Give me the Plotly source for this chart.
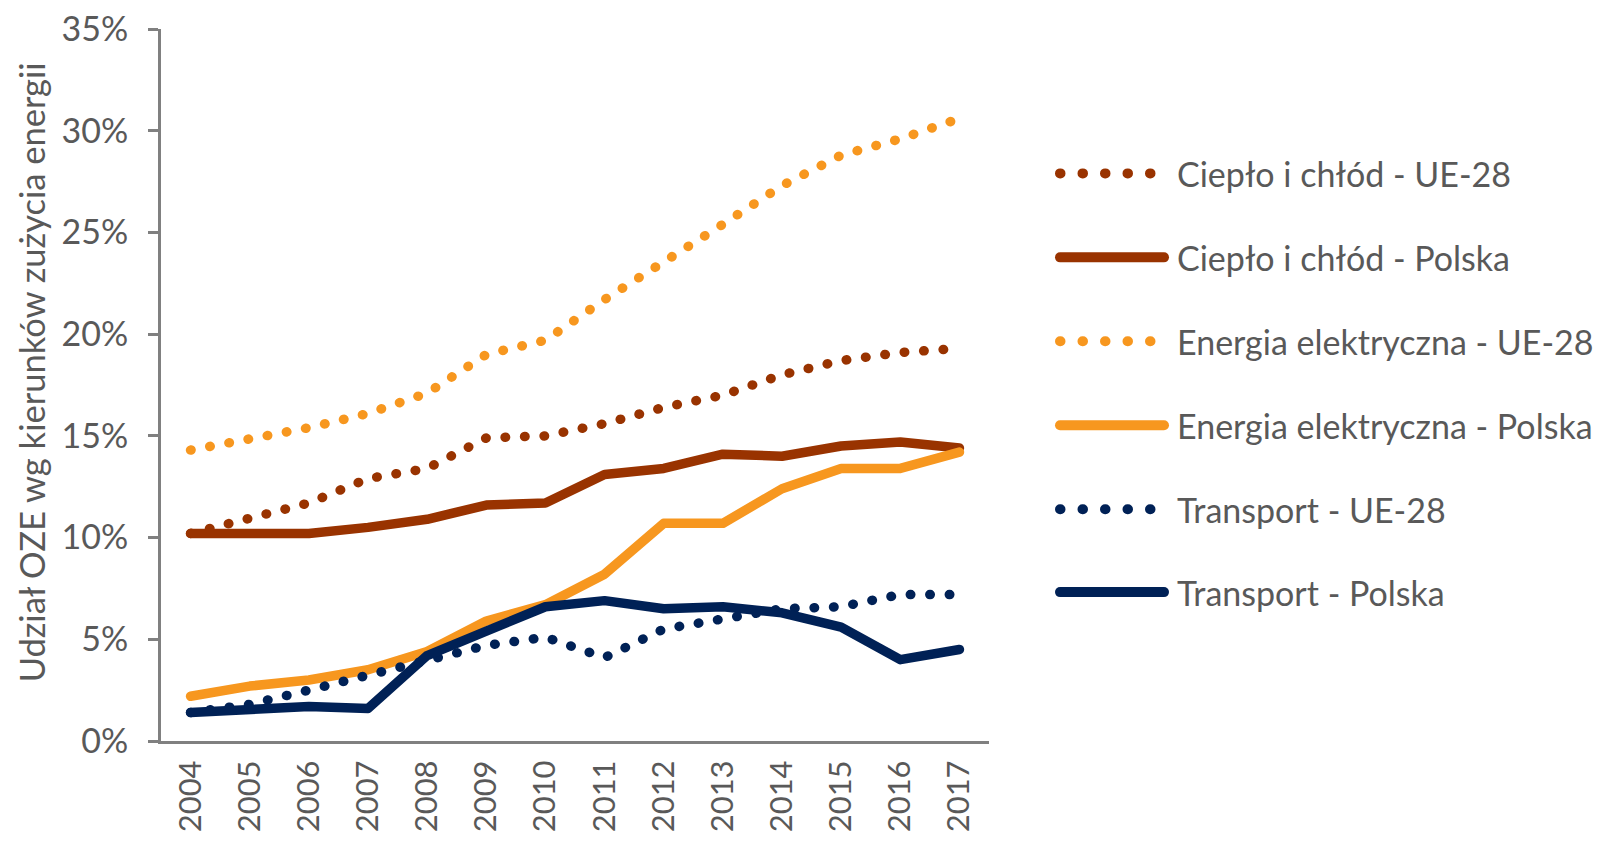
import plotly.graph_objects as go

years = ["2004", "2005", "2006", "2007", "2008", "2009", "2010",
         "2011", "2012", "2013", "2014", "2015", "2016", "2017"]

cieplo_ue = [10.2, 11.0, 11.7, 12.9, 13.4, 14.9, 15.0, 15.6, 16.4, 17.0, 18.0, 18.7, 19.1, 19.3]
cieplo_pl = [10.2, 10.2, 10.2, 10.5, 10.9, 11.6, 11.7, 13.1, 13.4, 14.1, 14.0, 14.5, 14.7, 14.4]
energia_ue = [14.3, 14.8, 15.4, 16.1, 17.1, 19.0, 19.7, 21.7, 23.5, 25.4, 27.3, 28.8, 29.6, 30.6]
energia_pl = [2.2, 2.7, 3.0, 3.5, 4.4, 5.9, 6.7, 8.2, 10.7, 10.7, 12.4, 13.4, 13.4, 14.2]
transport_ue = [1.4, 1.8, 2.5, 3.2, 4.0, 4.7, 5.1, 4.1, 5.5, 6.0, 6.5, 6.6, 7.2, 7.2]
transport_pl = [1.4, 1.6, 1.7, 1.6, 4.2, 5.4, 6.6, 6.9, 6.5, 6.6, 6.3, 5.6, 4.0, 4.5]

names = ["Ciepło i chłód - UE-28", "Ciepło i chłód - Polska",
         "Energia elektryczna - UE-28", "Energia elektryczna - Polska",
         "Transport - UE-28", "Transport - Polska"]
series = [cieplo_ue, cieplo_pl, energia_ue, energia_pl, transport_ue, transport_pl]
y_title = "Udział OZE wg kierunków zużycia energii"

BROWN = "#993300"
ORANGE = "#F7971F"
NAVY = "#002156"
colors = [BROWN, BROWN, ORANGE, ORANGE, NAVY, NAVY]
dotted = [True, False, True, False, True, False]

FONT = "Lato, 'Open Sans', sans-serif"
GRAY_TXT = "#595959"
AXIS = "#808080"

fig = go.Figure()
for name, vals, col, dt in zip(names, series, colors, dotted):
    fig.add_trace(go.Scatter(
        x=years, y=vals, name=name, mode="lines",
        line=dict(color=col, width=9.5, dash="0.5px,19px" if dt else "solid"),
        showlegend=False, hoverinfo="skip",
    ))

# manual legend (paper coordinates relative to plot area)
left, right, top, bottom = 161, 989, 28.5, 741
pw, ph = right - left, bottom - top
def px_x(p):
    return (p - left) / pw
def px_y(p):
    return (bottom - p) / ph

row_y = [173, 257, 341, 425, 509, 592]
shapes = []
annotations = []
for i, (name, col, dt) in enumerate(zip(names, colors, dotted)):
    yy = px_y(row_y[i])
    if dt:
        x0, x1 = px_x(1060), px_x(1151)
        dash = "0.5px,22px"
    else:
        x0, x1 = px_x(1060), px_x(1164)
        dash = "solid"
    shapes.append(dict(type="line", xref="paper", yref="paper",
                       x0=x0, x1=x1, y0=yy, y1=yy,
                       line=dict(color=col, width=10, dash=dash)))
    annotations.append(dict(xref="paper", yref="paper", x=px_x(1175), y=yy,
                            xanchor="left", yanchor="middle", showarrow=False,
                            text=name, font=dict(family=FONT, size=34, color=GRAY_TXT)))

annotations.append(dict(xref="paper", yref="paper", x=px_x(31), y=px_y(372),
                        xanchor="center", yanchor="middle", showarrow=False,
                        textangle=-90, text=y_title,
                        font=dict(family=FONT, size=34.5, color=GRAY_TXT)))

fig.update_layout(
    width=1598, height=841,
    margin=dict(l=left, r=1598 - right, t=top, b=841 - bottom),
    paper_bgcolor="white", plot_bgcolor="white",
    shapes=shapes, annotations=annotations,
    font=dict(family=FONT, color=GRAY_TXT),
)
fig.update_yaxes(
    range=[0, 35], dtick=5, ticksuffix="%",
    showgrid=False, zeroline=False, automargin=False,
    showline=True, linecolor=AXIS, linewidth=3,
    ticks="outside", ticklen=10, tickwidth=3, tickcolor=AXIS,
    tickfont=dict(family=FONT, size=34, color=GRAY_TXT),
    ticklabelstandoff=13,
)
fig.update_xaxes(
    type="category", range=[-0.5, 13.5],
    showgrid=False, zeroline=False, automargin=False,
    showline=True, linecolor=AXIS, linewidth=3,
    ticks="", tickangle=-90,
    tickfont=dict(family=FONT, size=31, color=GRAY_TXT),
    ticklabelstandoff=4,
)

post = """
document.body.style.margin = '0';
document.body.style.overflow = 'hidden';
var gd = document.getElementById('{plot_id}');
function rc(){
  gd.querySelectorAll('path.js-line, .shapelayer path').forEach(function(p){
    p.style.strokeLinecap = 'round';
    p.style.strokeLinejoin = 'round';
  });
}
rc();
if (gd.on) { gd.on('plotly_afterplot', rc); }
"""
fig.write_html("out.html", post_script=post, config={"displayModeBar": False})
